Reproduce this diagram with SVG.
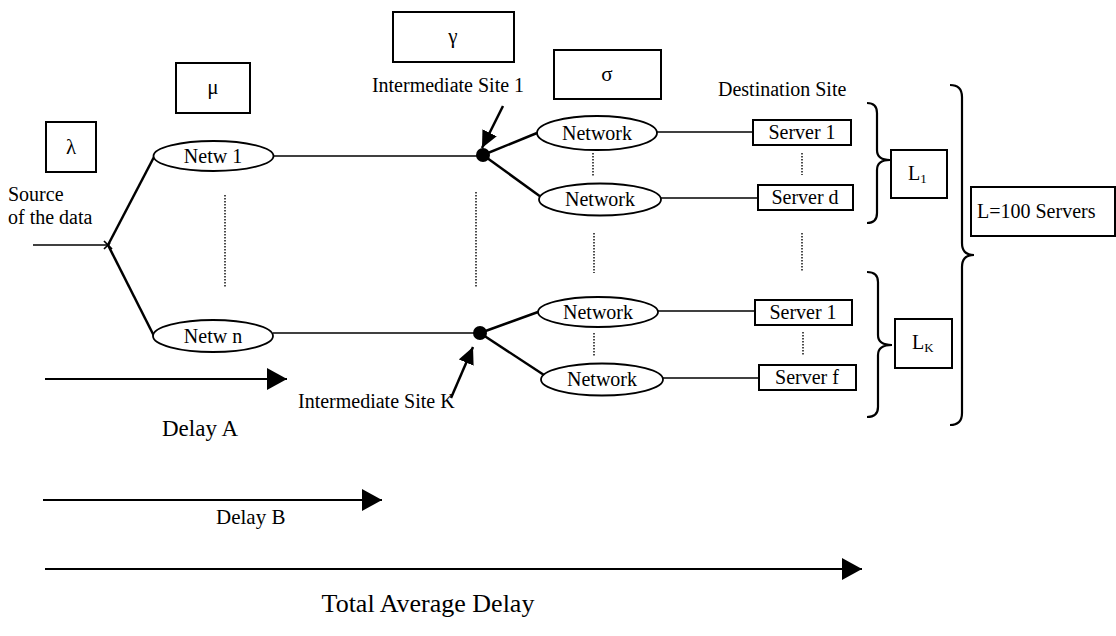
<svg xmlns="http://www.w3.org/2000/svg" width="1116" height="636" viewBox="0 0 1116 636">
  <style>
    text { font-family: "Liberation Serif", "Times New Roman", serif; fill: #000; }
    .lbl { font-size: 20px; }
    .big { font-size: 23px; }
    .greek { font-size: 21px; text-anchor: middle; }
    .mid { text-anchor: middle; }
    .box { fill: #fff; stroke: #000; stroke-width: 2; }
    .oval { fill: #fff; stroke: #000; stroke-width: 1.8; }
    .wire { fill: none; stroke: #000; stroke-width: 1.7; }
    .branch { fill: none; stroke: #000; stroke-width: 2.5; }
    .dots { fill: none; stroke: #000; stroke-width: 1.4; stroke-dasharray: 1.5 1.5; }
    .brace { fill: none; stroke: #000; stroke-width: 2.2; }
    .delay { fill: none; stroke: #000; stroke-width: 2.2; }
    .site { fill: #000; }
  </style>
  <defs>
    <marker id="headBig" markerUnits="userSpaceOnUse" markerWidth="22" markerHeight="22" refX="20" refY="11" orient="auto">
      <path d="M0,0 L20,11 L0,22 Z" fill="#000"/>
    </marker>
    <marker id="headSite" markerUnits="userSpaceOnUse" markerWidth="18" markerHeight="16" refX="17" refY="8" orient="auto">
      <path d="M0,0 L17,8 L0,16 Z" fill="#000"/>
    </marker>
  </defs>

  <!-- rate parameter boxes -->
  <g id="lambda">
    <rect class="box" x="46" y="122" width="50" height="50"/>
    <text class="greek" x="71" y="154">λ</text>
  </g>
  <g id="mu">
    <rect class="box" x="176" y="63" width="74" height="50"/>
    <text class="greek" x="213" y="94">μ</text>
  </g>
  <g id="gamma">
    <rect class="box" x="393" y="12" width="121" height="50"/>
    <text class="greek" x="453" y="43">γ</text>
  </g>
  <g id="sigma">
    <rect class="box" x="554" y="50" width="107" height="49"/>
    <text class="greek" x="607" y="81">σ</text>
  </g>

  <!-- connectors -->
  <g id="connectors">
    <line class="wire" x1="33" y1="245" x2="108" y2="245"/>
    <path class="wire" d="M104,241 L112,249 M104,249 L110,243"/>
    <line class="branch" x1="108" y1="245" x2="154" y2="157"/>
    <line class="branch" x1="108" y1="245" x2="154" y2="336"/>
    <line class="wire" x1="274" y1="156" x2="483" y2="156"/>
    <line class="wire" x1="273" y1="333" x2="480" y2="333"/>
    <line class="branch" x1="483" y1="155" x2="537" y2="133"/>
    <line class="branch" x1="483" y1="155" x2="541" y2="197"/>
    <line class="branch" x1="480" y1="333" x2="538" y2="312"/>
    <line class="branch" x1="480" y1="333" x2="544" y2="375"/>
    <line class="wire" x1="657" y1="132" x2="753" y2="132"/>
    <line class="wire" x1="661" y1="198" x2="758" y2="198"/>
    <line class="wire" x1="658" y1="311" x2="755" y2="311"/>
    <line class="wire" x1="663" y1="378" x2="759" y2="378"/>
    <!-- elided parallel paths -->
    <line class="dots" x1="225" y1="195" x2="225" y2="288"/>
    <line class="dots" x1="476" y1="192" x2="476" y2="287"/>
    <line class="dots" x1="593" y1="153" x2="593" y2="177"/>
    <line class="dots" x1="594" y1="233" x2="594" y2="273"/>
    <line class="dots" x1="594" y1="333" x2="594" y2="357"/>
    <line class="dots" x1="802" y1="153" x2="802" y2="175"/>
    <line class="dots" x1="802" y1="233" x2="802" y2="272"/>
    <line class="dots" x1="803" y1="332" x2="803" y2="356"/>
    <!-- site pointers -->
    <line class="branch" x1="503" y1="106" x2="482" y2="148" marker-end="url(#headSite)"/>
    <line class="branch" x1="451" y1="398" x2="473" y2="347" marker-end="url(#headSite)"/>
    <!-- group braces -->
    <path class="brace" d="M867,103 Q877,103 877,113 L877,150 Q877,160 890,160 Q877,160 877,170 L877,213 Q877,223 867,223"/>
    <path class="brace" d="M867,272 Q878,272 878,282 L878,335 Q878,345 892,345 Q878,345 878,355 L878,407 Q878,417 867,417"/>
    <path class="brace" d="M950,85 Q962,85 962,97 L962,243 Q962,255 974,255 Q962,255 962,267 L962,413 Q962,425 950,425"/>
    <!-- delay spans -->
    <line class="delay" x1="45" y1="379" x2="287" y2="379" marker-end="url(#headBig)"/>
    <line class="delay" x1="43" y1="500" x2="382" y2="500" marker-end="url(#headBig)"/>
    <line class="delay" x1="45" y1="569" x2="862" y2="569" marker-end="url(#headBig)"/>
  </g>

  <!-- source -->
  <g id="source">
    <text class="lbl" x="8" y="201">Source</text>
    <text class="lbl" x="8" y="224">of the data</text>
  </g>

  <!-- first-hop networks -->
  <g id="netw1">
    <ellipse class="oval" cx="213.5" cy="156" rx="60" ry="15"/>
    <text class="lbl mid" x="213" y="163">Netw 1</text>
  </g>
  <g id="netwn">
    <ellipse class="oval" cx="213" cy="336" rx="60" ry="16"/>
    <text class="lbl mid" x="213" y="343">Netw n</text>
  </g>

  <!-- intermediate sites -->
  <g id="site1">
    <circle class="site" cx="483" cy="155" r="7"/>
    <text class="lbl mid" x="448" y="92">Intermediate Site 1</text>
  </g>
  <g id="siteK">
    <circle class="site" cx="480" cy="333" r="7"/>
    <text class="lbl" x="298" y="408">Intermediate Site K</text>
  </g>

  <!-- second-hop networks -->
  <g id="net-1a">
    <ellipse class="oval" cx="597" cy="133" rx="60" ry="17"/>
    <text class="lbl mid" x="597" y="140">Network</text>
  </g>
  <g id="net-1b">
    <ellipse class="oval" cx="600" cy="199.5" rx="61" ry="16"/>
    <text class="lbl mid" x="600" y="206">Network</text>
  </g>
  <g id="net-ka">
    <ellipse class="oval" cx="598" cy="312" rx="60" ry="15"/>
    <text class="lbl mid" x="598" y="319">Network</text>
  </g>
  <g id="net-kb">
    <ellipse class="oval" cx="602" cy="379.5" rx="61" ry="16"/>
    <text class="lbl mid" x="602" y="386">Network</text>
  </g>

  <!-- destination servers -->
  <g id="destination">
    <text class="lbl" x="718" y="96">Destination Site</text>
  </g>
  <g id="server-1a">
    <rect class="box" x="753" y="120" width="98" height="25"/>
    <text class="lbl mid" x="802" y="139">Server 1</text>
  </g>
  <g id="server-d">
    <rect class="box" x="758" y="185" width="95" height="25"/>
    <text class="lbl mid" x="805" y="204">Server d</text>
  </g>
  <g id="server-1k">
    <rect class="box" x="755" y="300" width="97" height="25"/>
    <text class="lbl mid" x="803" y="319">Server 1</text>
  </g>
  <g id="server-f">
    <rect class="box" x="759" y="365" width="97" height="25"/>
    <text class="lbl mid" x="807" y="384">Server f</text>
  </g>

  <!-- group totals -->
  <g id="L1">
    <rect class="box" x="891" y="150" width="56" height="48"/>
    <text class="lbl" x="908" y="180">L<tspan font-size="13" dy="3">1</tspan></text>
  </g>
  <g id="LK">
    <rect class="box" x="895" y="319" width="57" height="49"/>
    <text class="lbl" x="912" y="349">L<tspan font-size="13" dy="3">K</tspan></text>
  </g>
  <g id="Ltotal">
    <rect class="box" x="971" y="187" width="144" height="49"/>
    <text class="lbl" x="977" y="218">L=100 Servers</text>
  </g>

  <!-- delay labels -->
  <g id="delays">
    <text class="big" x="162" y="436">Delay A</text>
    <text font-family="Liberation Serif, serif" font-size="21" x="216" y="524">Delay B</text>
    <text class="mid" font-size="26" x="428" y="612">Total Average Delay</text>
  </g>
</svg>
